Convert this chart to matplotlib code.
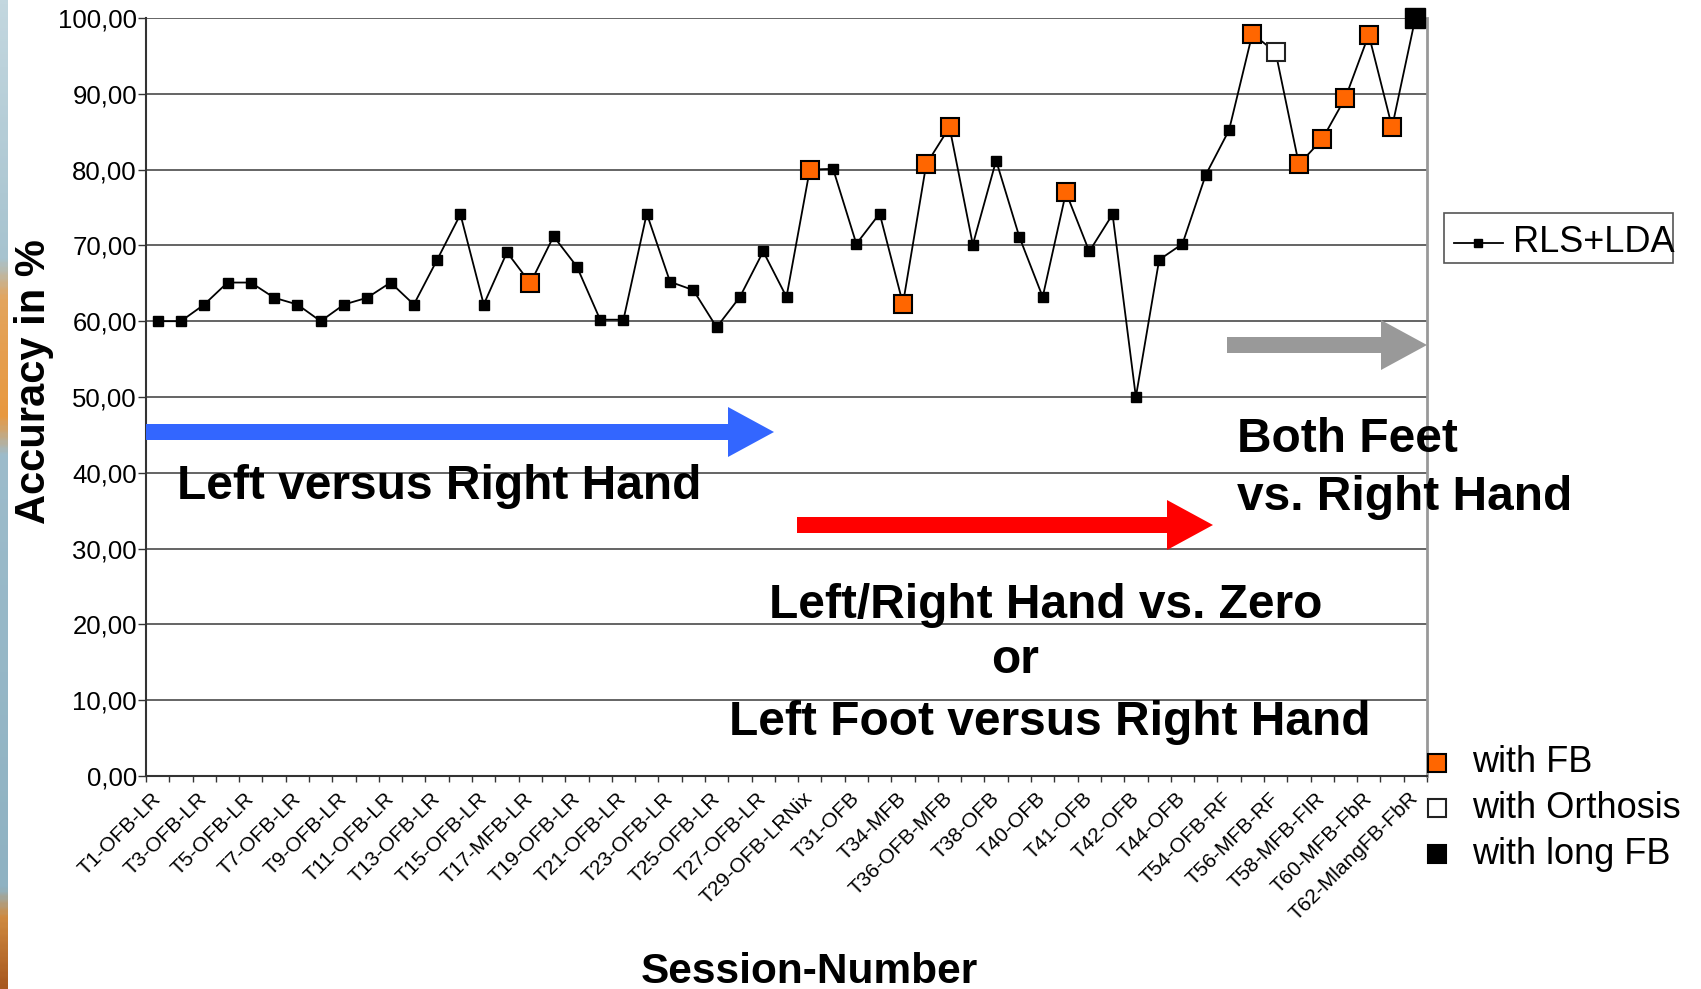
import numpy as np
import matplotlib
matplotlib.use("Agg")
import matplotlib.pyplot as plt
import matplotlib.patches as mpatches
from matplotlib.lines import Line2D
from matplotlib.transforms import Affine2D
from matplotlib.colors import LinearSegmentedColormap

# ---- data -------------------------------------------------------------
accuracy = [60.0, 60.0, 62.2, 65.1, 65.1, 63.1, 62.2, 60.0, 62.2, 63.1,
            65.1, 62.2, 68.1, 74.1, 62.2, 69.1, 65.0, 71.2, 67.2, 60.2,
            60.2, 74.2, 65.2, 64.1, 59.2, 63.2, 69.2, 63.2, 80.0, 80.1,
            70.2, 74.2, 62.3, 80.7, 85.6, 70.1, 81.2, 71.1, 63.2, 77.0,
            69.2, 74.1, 50.0, 68.1, 70.2, 79.3, 85.2, 97.9, 95.5, 80.7,
            84.0, 89.5, 97.8, 85.6, 100.0]

session_labels = ["T1-OFB-LR", "T3-OFB-LR", "T5-OFB-LR", "T7-OFB-LR",
                  "T9-OFB-LR", "T11-OFB-LR", "T13-OFB-LR", "T15-OFB-LR",
                  "T17-MFB-LR", "T19-OFB-LR", "T21-OFB-LR", "T23-OFB-LR",
                  "T25-OFB-LR", "T27-OFB-LR", "T29-OFB-LRNix", "T31-OFB",
                  "T34-MFB", "T36-OFB-MFB", "T38-OFB", "T40-OFB", "T41-OFB",
                  "T42-OFB", "T44-OFB", "T54-OFB-RF", "T56-MFB-RF",
                  "T58-MFB-FIR", "T60-MFB-FbR", "T62-MlangFB-FbR"]

with_fb = [16, 28, 32, 33, 34, 39, 47, 49, 50, 51, 52, 53]
with_orthosis = [48]
with_long_fb = [54]

yticks = list(range(0, 101, 10))

# ---- figure -----------------------------------------------------------
W, H = 1701, 989
fig = plt.figure(figsize=(W / 100, H / 100), dpi=100)
plt.rcParams['font.family'] = ['Liberation Sans', 'DejaVu Sans']
px = Affine2D().scale(1, -1).translate(0, H)   # top-left pixel coordinates

# decorative strip along the left border
strip = fig.add_axes([0, 0, 7 / W, 1])
strip_cmap = LinearSegmentedColormap.from_list(
    "strip", [(0.0, "#c3d7df"), (0.26, "#a7c3cf"), (0.30, "#e3a55e"),
              (0.42, "#e8983f"), (0.46, "#9dbccb"), (0.90, "#8fb2c2"),
              (0.93, "#cf8a40"), (1.0, "#a8581f")])
strip.imshow(np.linspace(0, 1, 400)[:, None], aspect="auto", cmap=strip_cmap,
             interpolation="bilinear")
strip.set_axis_off()

ax = fig.add_axes([146 / W, (H - 776) / H, 1281 / W, 758 / H])
x = np.arange(len(accuracy))
y = np.array(accuracy)

ax.plot(x, y, color="black", lw=1.3, marker="s", ms=7, zorder=3)
ax.plot(x[with_fb], y[with_fb], ls="none", marker="s", ms=12.5,
        mfc="#FF6600", mec="black", mew=1.5, zorder=4)
ax.plot(x[with_orthosis], y[with_orthosis], ls="none", marker="s", ms=12.5,
        mfc="white", mec="#222222", mew=1.5, zorder=4)
ax.plot(x[with_long_fb], y[with_long_fb], ls="none", marker="s", ms=14,
        mfc="black", mec="black", zorder=5, clip_on=False)

ax.set_xlim(-0.5, len(accuracy) - 0.5)
ax.set_ylim(0, 100)
ax.set_yticks(yticks)
ax.set_yticklabels([f"{v:.2f}".replace(".", ",") for v in yticks])
ax.yaxis.grid(True, color="#3a3a3a", lw=1.1)
ax.set_axisbelow(True)

ax.set_xticks(np.arange(0, len(accuracy), 2))
ax.set_xticklabels(session_labels)
ax.set_xticks(np.arange(-0.5, len(accuracy), 1), minor=True)
ax.tick_params(axis="x", which="major", length=0, pad=14, labelsize=15)
ax.tick_params(axis="x", which="minor", length=4.5, width=1, color="#333333")
ax.tick_params(axis="y", length=6, width=1, pad=0.5, labelsize=18.5,
               color="#333333")
for lab in ax.get_xticklabels():
    lab.set_rotation(45)
    lab.set_ha("right")
    lab.set_va("center")
    lab.set_rotation_mode("anchor")

ax.spines["top"].set_visible(False)
ax.spines["right"].set_color("#999999")
ax.spines["right"].set_linewidth(2)
ax.spines["left"].set_color("#333333")
ax.spines["left"].set_linewidth(1.5)
ax.spines["bottom"].set_color("#333333")
ax.spines["bottom"].set_linewidth(1.5)

# ---- axis titles --------------------------------------------------------
fig.text(34, 382, "Accuracy in %", transform=px, rotation=90, ha="center",
         va="center", fontsize=30, fontweight="bold")
fig.text(809, 983, "Session-Number", transform=px, ha="center",
         va="baseline", fontsize=30.5, fontweight="bold")

# ---- phase arrows and captions ------------------------------------------
def phase_arrow(x0, x1, yc, color):
    arr = mpatches.FancyArrow(x0, yc, x1 - x0, 0, width=16, head_width=50,
                              head_length=46, length_includes_head=True,
                              color=color, lw=0, transform=px)
    fig.add_artist(arr)

phase_arrow(146, 774, 432, "#3366FF")
phase_arrow(797, 1213, 525, "#FF0000")
phase_arrow(1227, 1427, 345, "#999999")

bold = dict(transform=px, fontsize=34.5, fontweight="bold", va="baseline")
fig.text(177, 499, "Left versus Right Hand", ha="left", **bold)
fig.text(1237, 452, "Both Feet", ha="left", **bold)
fig.text(1237, 510, "vs. Right Hand", ha="left", **bold)
fig.text(1046, 618, "Left/Right Hand vs. Zero", ha="center", **bold)
fig.text(1015, 673, "or", ha="center", **bold)
fig.text(1050, 735, "Left Foot versus Right Hand", ha="center", **bold)

# ---- legends --------------------------------------------------------------
box = mpatches.Rectangle((1444, 213), 229, 50, fill=False, ec="#555555",
                         lw=1.2, transform=px)
fig.add_artist(box)
fig.add_artist(Line2D([1454, 1503], [242.5, 242.5], color="black", lw=1.3,
                      transform=px))
fig.add_artist(Line2D([1478], [242.5], marker="s", ms=6, color="black",
                      transform=px))
fig.text(1513, 243, "RLS+LDA", transform=px, ha="left", va="center",
         fontsize=26)

legend_rows = [("with FB", "#FF6600", "black", 763),
               ("with Orthosis", "white", "#222222", 808),
               ("with long FB", "black", "black", 854)]
for text, fc, ec, yy in legend_rows:
    fig.add_artist(Line2D([1437], [yy], marker="s", ms=13, mfc=fc, mec=ec,
                          mew=1.5, ls="none", transform=px))
    fig.text(1472, yy, text, transform=px, ha="left", va="center",
             fontsize=26)

fig.savefig("out.png", dpi=100)
